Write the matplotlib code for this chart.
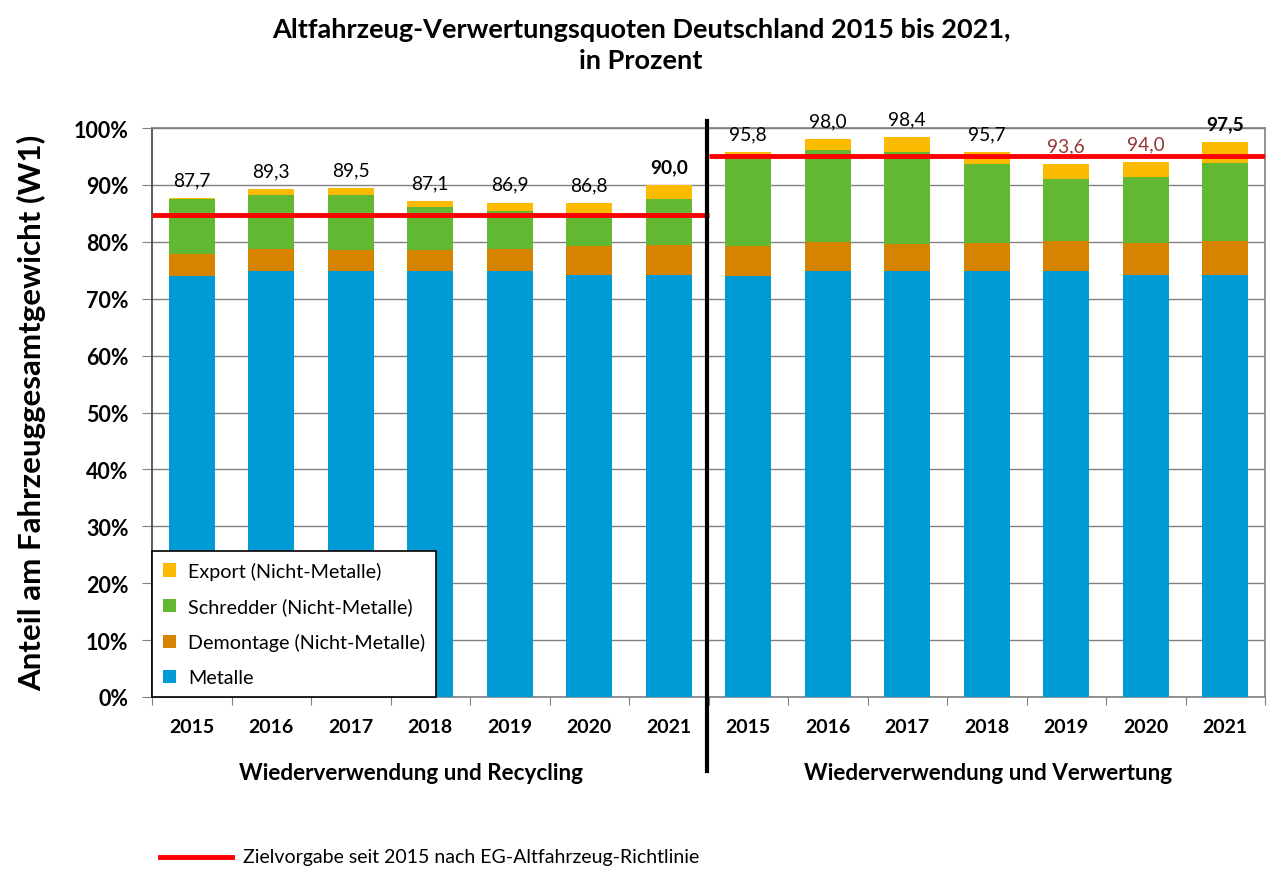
import matplotlib
matplotlib.use("Agg")
import matplotlib.pyplot as plt
from matplotlib.patches import Patch
from matplotlib.lines import Line2D
import numpy as np

plt.rcParams['font.family'] = ['Lato', 'DejaVu Sans']

years = ["2015", "2016", "2017", "2018", "2019", "2020", "2021"]
groups = ["Wiederverwendung und Recycling", "Wiederverwendung und Verwertung"]
series_names = ["Metalle", "Demontage (Nicht-Metalle)", "Schredder (Nicht-Metalle)", "Export (Nicht-Metalle)"]

metalle   = [74.0, 74.8, 74.8, 74.8, 74.8, 74.2, 74.2,   74.0, 74.8, 74.8, 74.8, 74.8, 74.2, 74.2]
demontage = [3.8, 4.0, 3.7, 3.8, 4.0, 5.0, 5.3,          5.2, 5.1, 4.9, 5.0, 5.3, 5.6, 5.9]
schredder = [9.8, 9.5, 9.7, 7.5, 6.6, 5.8, 8.0,          16.3, 16.3, 16.1, 13.8, 11.0, 11.6, 13.7]
export    = [0.1, 1.0, 1.3, 1.0, 1.5, 1.8, 2.5,          0.3, 1.8, 2.6, 2.1, 2.5, 2.6, 3.7]
totals    = [87.7, 89.3, 89.5, 87.1, 86.9, 86.8, 90.0,   95.8, 98.0, 98.4, 95.7, 93.6, 94.0, 97.5]
targets   = [84.7, 95.0]
target_label = "Zielvorgabe seit 2015 nach EG-Altfahrzeug-Richtlinie"

colors = ["#009BD4", "#D68400", "#62B832", "#FDBB00"]

fig = plt.figure(figsize=(12.7, 8.7), dpi=100)
ax = fig.add_axes([152/1270, 1-698/870, (1265-152)/1270, (698-129)/870])

n = len(totals)
x = np.arange(n)
w = 0.58
bottom = np.zeros(n)
for vals, c, name in zip([metalle, demontage, schredder, export], colors, series_names):
    ax.bar(x, vals, w, bottom=bottom, color=c, edgecolor='none', label=name, zorder=3)
    bottom += np.array(vals)

# target lines
ax.plot([-0.5, 6.5], [targets[0]]*2, color='#FF0000', lw=3.5, zorder=4, solid_capstyle='butt')
ax.plot([6.5, 13.5], [targets[1]]*2, color='#FF0000', lw=3.5, zorder=4, solid_capstyle='butt')

# value labels
for i, t in enumerate(totals):
    txt = f"{t:.1f}".replace('.', ',')
    bold = i in (6, 13)
    col = '#953735' if i in (11, 12) else 'black'
    ax.annotate(txt, (x[i], bottom[i]), xytext=(0, 7), textcoords='offset points',
                ha='center', va='bottom', fontsize=13.8,
                fontweight='bold' if bold else 'normal', color=col, clip_on=False, zorder=6)

ax.set_xlim(-0.5, n - 0.5)
ax.set_ylim(0, 100)
ax.set_yticks(np.arange(0, 101, 10))
ax.set_yticklabels([f"{v}%" for v in range(0, 101, 10)], fontsize=15.5, fontweight='bold')
ax.yaxis.grid(True, color='#808080', lw=1, zorder=0)
ax.set_axisbelow(True)

ax.set_xticks(np.arange(-0.5, n, 1.0))
ax.set_xticklabels([])
ax.set_xticks(x, minor=True)
ax.set_xticklabels(years + years, minor=True, fontsize=14, fontweight='bold')
ax.tick_params(axis='x', which='minor', length=0, pad=15)
ax.tick_params(axis='x', which='major', length=6, color='#808080', direction='out')
ax.tick_params(axis='y', length=7, color='#808080', direction='out', pad=10)

for s in ['bottom', 'right', 'top']:
    ax.spines[s].set_color('#808080')
    ax.spines[s].set_linewidth(1.2)
ax.spines['left'].set_color('#404040')
ax.spines['left'].set_linewidth(1.2)

# separator
fig.add_artist(Line2D([707/1270, 707/1270], [1-122/870, 1-772/870], transform=fig.transFigure,
                      color='black', lw=3, zorder=10))

# group labels
fig.text(411/1270, 1-774/870, groups[0], ha='center', va='center', fontsize=16.2, fontweight='bold')
fig.text(988/1270, 1-774/870, groups[1], ha='center', va='center', fontsize=16.2, fontweight='bold')

# title
fig.text(641/1270, 1-30/870, "Altfahrzeug-Verwertungsquoten Deutschland 2015 bis 2021,",
         ha='center', va='center', fontsize=19.5, fontweight='bold')
fig.text(641/1270, 1-61/870, "in Prozent",
         ha='center', va='center', fontsize=19.5, fontweight='bold')

# y label
fig.text(32/1270, 1-413/870, "Anteil am Fahrzeuggesamtgewicht (W1)", rotation=90,
         ha='center', va='center', fontsize=22.5, fontweight='bold')

# legend
leg_handles = [Patch(facecolor=c, edgecolor='none') for c in colors[::-1]]
leg = ax.legend(leg_handles, series_names[::-1], loc='lower left', bbox_to_anchor=(0.0, 0.0),
                fontsize=14.2, frameon=True, fancybox=False, edgecolor='black', framealpha=1,
                handlelength=0.65, handleheight=0.65, handletextpad=0.65, labelspacing=0.9,
                borderpad=0.55, borderaxespad=0.0)
leg.get_frame().set_linewidth(1.2)
leg.set_zorder(20)

# bottom legend for target
fig.add_artist(Line2D([160/1270, 232/1270], [1-858/870]*2, transform=fig.transFigure,
                      color='#FF0000', lw=3.5))
fig.text(243/1270, 1-858/870, target_label, ha='left', va='center', fontsize=14)

fig.savefig("out.png", dpi=100)
